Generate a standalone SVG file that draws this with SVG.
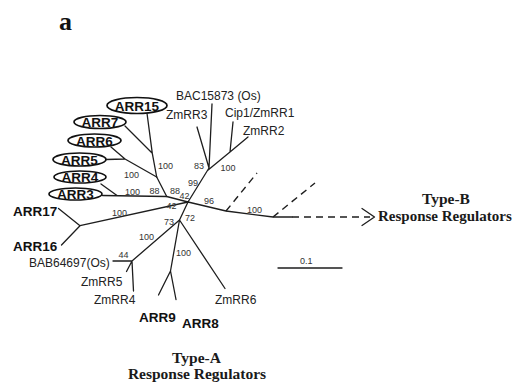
<svg xmlns="http://www.w3.org/2000/svg" width="515" height="385" viewBox="0 0 515 385">
<style>
.br{stroke:#1e1e1e;stroke-width:1.3;fill:none;stroke-linecap:round;stroke-linejoin:round}
.dash{stroke:#1e1e1e;stroke-width:1.4;fill:none;stroke-dasharray:7 5}
.ell{fill:#fff;stroke:#111;stroke-width:1.7}
.lbl{font-family:"Liberation Sans",Arial,sans-serif;font-size:12px;fill:#222}
.arr{font-family:"Liberation Sans",Arial,sans-serif;font-size:13.5px;font-weight:bold;fill:#111}
.bs{font-family:"Liberation Sans",Arial,sans-serif;font-size:9px;fill:#333}
.ttl{font-family:"Liberation Serif","Times New Roman",serif;font-size:15.5px;font-weight:bold;fill:#1a1a1a}
</style>
<rect width="515" height="385" fill="#fff"/>
<text x="59" y="30" style="font-family:'Liberation Serif','Times New Roman',serif;font-size:26px;font-weight:bold;fill:#111">a</text>

<g id="connectors">
  <path class="br" d="M146.7,111 L152.3,153.3 M125,126 L152.3,153.3 M152.3,153.3 L156.7,177"/>
  <path class="br" d="M111,147 L125,159 L156.7,177 M106,159.5 L125,159"/>
  <path class="br" d="M156.7,177 L166.7,196.5"/>
  <path class="br" d="M101,184 L117,195.5 M102.5,195.5 L166.7,196.5 L188,202"/>
  <path class="br" d="M188,202 L209,168 M207.5,170.5 L230,152 M197,127 L209,168 M212,104 L209,168 M230,152 L233,122 M230,152 L248,137"/>
  <path class="br" d="M188,202 L226,211 L273,217 L292,217"/>
  <path class="dash" d="M292,217 L370,217"/>
  <path class="br" d="M362,208.5 L374.5,217 L362,225.5"/>
  <path class="dash" d="M226,211 L257,173"/>
  <path class="dash" d="M273,217 L315,183"/>
  <path class="br" d="M188,202 L80,225.7 M58.5,208.5 L80,225.7 M61.5,245 L80,225.7"/>
  <path class="br" d="M188,202 L179.5,220 M179.5,220 L132,261 M113,261 L132,261 M132,261 L126.5,271.5 M132,261 L133.5,291"/>
  <path class="br" d="M179.5,220 L170.5,271 M170.5,271 L158.5,295 M170.5,271 L176,299.5 M179.5,220 L225,288.5"/>
</g>

<g id="scale">
  <path class="br" d="M278,268 L342,268"/>
  <text class="bs" x="300" y="264">0.1</text>
</g>

<g id="bootstrap">
  <text class="bs" x="158" y="169">100</text>
  <text class="bs" x="124" y="178">100</text>
  <text class="bs" x="125" y="195">100</text>
  <text class="bs" x="149.5" y="194">88</text>
  <text class="bs" x="170" y="194">88</text>
  <text class="bs" x="179.5" y="199">42</text>
  <text class="bs" x="188" y="186">99</text>
  <text class="bs" x="194" y="169">83</text>
  <text class="bs" x="220.5" y="171">100</text>
  <text class="bs" x="204" y="204">96</text>
  <text class="bs" x="247" y="213">100</text>
  <text class="bs" x="166.5" y="209">42</text>
  <text class="bs" x="112" y="216">100</text>
  <text class="bs" x="185" y="221">72</text>
  <text class="bs" x="164" y="225">73</text>
  <text class="bs" x="139" y="240">100</text>
  <text class="bs" x="176" y="256">100</text>
  <text class="bs" x="118.5" y="257.5">44</text>
</g>

<g id="ARR15"><ellipse class="ell" cx="137" cy="105.5" rx="30" ry="8"/><text class="arr" x="137" y="110.5" text-anchor="middle">ARR15</text></g>
<g id="ARR7"><ellipse class="ell" cx="100" cy="122" rx="26" ry="6.5"/><text class="arr" x="100" y="127" text-anchor="middle">ARR7</text></g>
<g id="ARR6"><ellipse class="ell" cx="94.5" cy="140.5" rx="26.5" ry="6.5"/><text class="arr" x="94.5" y="145.5" text-anchor="middle">ARR6</text></g>
<g id="ARR5"><ellipse class="ell" cx="79.5" cy="159.5" rx="26.5" ry="6.5"/><text class="arr" x="79.5" y="164.5" text-anchor="middle">ARR5</text></g>
<g id="ARR4"><ellipse class="ell" cx="80" cy="177" rx="26" ry="6"/><text class="arr" x="80" y="182" text-anchor="middle">ARR4</text></g>
<g id="ARR3"><ellipse class="ell" cx="75.5" cy="194" rx="26.5" ry="6"/><text class="arr" x="75.5" y="199" text-anchor="middle">ARR3</text></g>

<g id="BAC15873"><text class="lbl" x="176" y="99.5">BAC15873 (Os)</text></g>
<g id="ZmRR3"><text class="lbl" x="166" y="118.5">ZmRR3</text></g>
<g id="Cip1"><text class="lbl" x="225" y="116.5">Cip1/ZmRR1</text></g>
<g id="ZmRR2"><text class="lbl" x="243" y="134.5">ZmRR2</text></g>
<g id="ARR17"><text class="arr" x="13" y="216">ARR17</text></g>
<g id="ARR16"><text class="arr" x="13" y="251">ARR16</text></g>
<g id="BAB64697"><text class="lbl" x="29" y="266.5">BAB64697(Os)</text></g>
<g id="ZmRR5"><text class="lbl" x="81" y="286">ZmRR5</text></g>
<g id="ZmRR4"><text class="lbl" x="94" y="303.5">ZmRR4</text></g>
<g id="ZmRR6"><text class="lbl" x="215" y="303.5">ZmRR6</text></g>
<g id="ARR9"><text class="arr" x="139" y="322">ARR9</text></g>
<g id="ARR8"><text class="arr" x="182" y="328">ARR8</text></g>

<g id="typeB"><text class="ttl" x="446" y="203.5" text-anchor="middle">Type-B</text><text class="ttl" x="378" y="221" style="font-size:15px">Response Regulators</text></g>
<g id="typeA"><text class="ttl" x="196.5" y="362.5" text-anchor="middle">Type-A</text><text class="ttl" x="197" y="378.5" text-anchor="middle">Response Regulators</text></g>
</svg>
